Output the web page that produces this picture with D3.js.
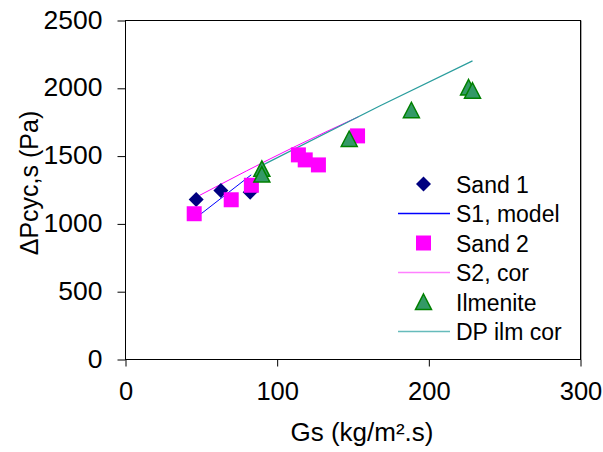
<!DOCTYPE html>
<html>
<head>
<meta charset="utf-8">
<script src="https://cdn.jsdelivr.net/npm/d3@7"></script>
<style>
  html, body { margin: 0; padding: 0; background: #fff; }
  svg { display: block; font-family: Arial, "Liberation Sans", sans-serif; }
</style>
</head>
<body>
<svg id="chart" width="603" height="452"></svg>
<script>
// ---- Data ----
const xTicks = [0, 100, 200, 300];
const yTicks = [0, 500, 1000, 1500, 2000, 2500];

const sand1Gs = [46.6, 62.9, 82.2];
const sand1Dp = [1180, 1246, 1234];

const sand2Gs = [45.3, 69.7, 83.0, 114.0, 118.5, 127.2, 153.0];
const sand2Dp = [1075, 1178, 1285, 1509, 1472, 1435, 1649];

const ilmGs = [89.9, 89.9, 147.5, 188.5, 226.2, 228.8];
const ilmDp = [1406, 1364, 1626, 1838, 2006, 1982];

const s1ModelGs = [49.9, 82.9];
const s1ModelDp = [1075, 1362];

const s2CorGs = [48.8, 110.8, 153.6];
const s2CorDp = [1210, 1565, 1790];

const dpIlmGs = [91.0, 167.9, 228.8];
const dpIlmDp = [1437, 1871, 2202];

const legendLabels = ["Sand 1", "S1, model", "Sand 2", "S2, cor", "Ilmenite", "DP ilm cor"];

// ---- Setup ----
const svg = d3.select("#chart");
const x = d3.scaleLinear().domain([0, 300]).range([125.5, 580.5]);
const y = d3.scaleLinear().domain([0, 2500]).range([359.5, 20.5]);

const zip = (a, b) => a.map((v, i) => [v, b[i]]);

// Frame
const frame = svg.append("g");
frame.append("line").attr("x1", x(300) + 1).attr("x2", x(300) + 1)
  .attr("y1", y(2500)).attr("y2", y(0)).attr("stroke", "#aaa").attr("stroke-width", 1);
frame.append("rect")
  .attr("x", x(0)).attr("y", y(2500))
  .attr("width", x(300) - x(0)).attr("height", y(0) - y(2500))
  .attr("fill", "none").attr("stroke", "#000").attr("stroke-width", 1);

// Axes
const xAxis = d3.axisBottom(x).tickValues(xTicks).tickSize(7).tickPadding(16).tickFormat(d3.format("d"));
const yAxis = d3.axisLeft(y).tickValues(yTicks).tickSize(8).tickPadding(15).tickFormat(d3.format("d"));

const gx = svg.append("g").attr("transform", `translate(0,${y(0)})`).call(xAxis);
const gy = svg.append("g").attr("transform", `translate(${x(0)},0)`).call(yAxis);
[gx, gy].forEach(g => {
  g.select(".domain").remove();
  g.selectAll(".tick line").attr("stroke", "#000");
  g.selectAll(".tick text").attr("fill", "#000")
    .style("font-family", "Arial, 'Liberation Sans', sans-serif");
});
gx.selectAll(".tick text").style("font-size", "25.5px").attr("dy", "0.68em");
gy.selectAll(".tick text").style("font-size", "25px").attr("dy", "0.30em")
  .attr("transform", "scale(1.06,1)").attr("x", -23 / 1.06);

// Axis titles
svg.append("text")
  .attr("x", 362).attr("y", 441)
  .attr("text-anchor", "middle")
  .style("font-size", "26px")
  .text("Gs (kg/m².s)");

svg.append("text")
  .attr("transform", "translate(38,183) rotate(-90)")
  .attr("text-anchor", "middle")
  .style("font-size", "25px")
  .text("ΔPcyc,s (Pa)");

// Marker paths
const diamondPath = "M0,-7.5L7.5,0L0,7.5L-7.5,0Z";
const squarePath = "M-7.5,-7.5H7.5V7.5H-7.5Z";
const trianglePath = "M0,-8L8,7.5L-8,7.5Z";

// Lines
const line = d3.line().x(d => x(d[0])).y(d => y(d[1]));
const curve = d3.line().curve(d3.curveMonotoneX).x(d => x(d[0])).y(d => y(d[1]));
const plot = svg.append("g");
plot.append("path").datum(zip(s1ModelGs, s1ModelDp)).attr("d", line)
  .attr("fill", "none").attr("stroke", "#0000ff").attr("stroke-width", 1);
plot.append("path").datum(zip(s2CorGs, s2CorDp)).attr("d", curve)
  .attr("fill", "none").attr("stroke", "#ff00ff").attr("stroke-width", 1);
plot.append("path").datum(zip(dpIlmGs, dpIlmDp)).attr("d", curve)
  .attr("fill", "none").attr("stroke", "#2a9d9d").attr("stroke-width", 1.2);

// Markers
plot.selectAll(".s1").data(zip(sand1Gs, sand1Dp)).join("path")
  .attr("d", diamondPath).attr("transform", d => `translate(${x(d[0])},${y(d[1])})`)
  .attr("fill", "#000080");
plot.selectAll(".s2").data(zip(sand2Gs, sand2Dp)).join("path")
  .attr("d", squarePath).attr("transform", d => `translate(${x(d[0])},${y(d[1])})`)
  .attr("fill", "#ff00ff");
plot.selectAll(".ilm").data(zip(ilmGs, ilmDp)).join("path")
  .attr("d", trianglePath).attr("transform", d => `translate(${x(d[0])},${y(d[1])})`)
  .attr("fill", "#339966").attr("stroke", "#008000").attr("stroke-width", 1.5);

// Legend
const leg = svg.append("g");
const legTypes = [
  {m: diamondPath, fill: "#000080"},
  {l: "#0000ff"},
  {m: squarePath, fill: "#ff00ff"},
  {l: "#ff80ff"},
  {m: trianglePath, fill: "#339966", stroke: "#008000"},
  {l: "#66bbbb"}
];
legendLabels.forEach((lab, i) => {
  const base = 192.5 + i * 29.5;
  const cy = base - 8.5;
  const t = legTypes[i];
  if (t.m) {
    leg.append("path").attr("d", t.m).attr("transform", `translate(423.5,${cy})`)
      .attr("fill", t.fill).attr("stroke", t.stroke || "none").attr("stroke-width", 1.5);
  } else {
    leg.append("line").attr("x1", 398).attr("x2", 450).attr("y1", cy).attr("y2", cy)
      .attr("stroke", t.l).attr("stroke-width", 1.5);
  }
  leg.append("text").attr("x", 456).attr("y", base).style("font-size", "23px").text(lab);
});
</script>
</body>
</html>
